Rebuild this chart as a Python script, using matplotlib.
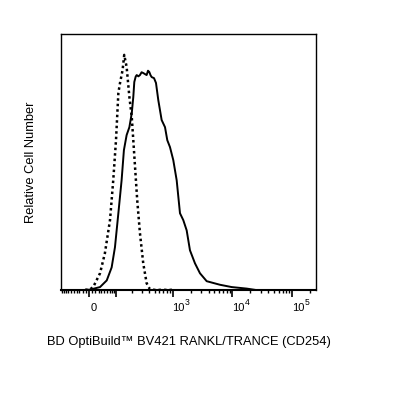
import numpy as np
import matplotlib
matplotlib.use("Agg")
import matplotlib.pyplot as plt

plt.rcParams['font.family'] = ['Liberation Sans', 'DejaVu Sans']

# Isotype control (dotted)
ctrl_x = [-12, 3, 13, 35, 52, 72, 86, 99, 111, 120, 135, 145, 161, 181, 200,
          213, 229, 250, 279, 318, 364, 415, 500, 1000]
ctrl_y = [0.0, 0.002, 0.011, 0.065, 0.143, 0.273, 0.429, 0.586, 0.771, 0.81,
          0.861, 0.92, 0.873, 0.755, 0.676, 0.586, 0.48, 0.351, 0.222, 0.104,
          0.026, 0.002, 0.0, 0.0]

# Stained sample (solid)
stain_x = [-10, 3, 35, 59, 79, 94, 111, 129, 143, 161, 181, 200, 213, 222, 235,
           245, 262, 279, 298, 318, 340, 364, 384, 404, 425, 444, 486, 525, 574,
           654, 745, 814, 903, 1026, 1170, 1329, 1510, 1720, 1953, 2368, 2872,
           3720, 4800, 6206, 9736, 17350, 24000]
stain_y = [0.0, 0.001, 0.011, 0.037, 0.088, 0.167, 0.3, 0.429, 0.547, 0.606,
           0.637, 0.692, 0.755, 0.814, 0.835, 0.841, 0.836, 0.841, 0.852, 0.849,
           0.845, 0.841, 0.858, 0.853, 0.840, 0.833, 0.829, 0.81, 0.743, 0.665,
           0.637, 0.586, 0.559, 0.508, 0.429, 0.3, 0.273, 0.233, 0.155, 0.104,
           0.065, 0.034, 0.027, 0.02, 0.011, 0.005, 0.0]

major_ticks = [0, 100, 1000, 10000, 100000]
label_ticks = [1000, 10000, 100000]
label_exps = ['3', '4', '5']
minor_ticks = ([-100, -90, -80, -70, -60, -50, -40, -30, -20, -10] +
               [10, 20, 30, 40, 50, 60, 70, 80, 90] +
               [200, 300, 400, 500, 600, 700, 800, 900] +
               [2000, 3000, 4000, 5000, 6000, 7000, 8000, 9000] +
               [20000, 30000, 40000, 50000, 60000, 70000, 80000, 90000, 200000])

C = 80.0
def fwd(x):
    return np.arcsinh(np.asarray(x, dtype=float) / C)
def inv(u):
    return C * np.sinh(np.asarray(u, dtype=float))

fig = plt.figure(figsize=(4.04, 3.96), dpi=100)
ax = fig.add_axes([0.151, 0.268, 0.631, 0.645])
ax.set_xscale('function', functions=(fwd, inv))

ax.plot(stain_x, stain_y, color='black', lw=1.4, solid_joinstyle='round')
ax.plot(ctrl_x, ctrl_y, color='black', lw=1.8, linestyle=(0, (1, 1.2)))

ax.set_xlim(-104, 250000)
ax.set_ylim(0, 1.0)
ax.set_yticks([])
ax.set_xticks(major_ticks)
ax.set_xticklabels([''] * len(major_ticks))
ax.set_xticks(minor_ticks, minor=True)
ax.tick_params(axis='x', which='major', length=5, width=1.2, direction='out')
ax.tick_params(axis='x', which='minor', length=2.5, width=1.0, direction='out')
for sp in ax.spines.values():
    sp.set_linewidth(1.0)
ax.spines['bottom'].set_linewidth(1.5)

# tick labels
ax.annotate('0', xy=(0, 0), xycoords=('data', 'axes fraction'),
            xytext=(3.1, -9.8), textcoords='offset points',
            ha='center', va='top', fontsize=8)
for xv, e in zip(label_ticks, label_exps):
    ax.annotate('10', xy=(xv, 0), xycoords=('data', 'axes fraction'),
                xytext=(-0.3, -9.8), textcoords='offset points',
                ha='left', va='top', fontsize=8)
    ax.annotate(e, xy=(xv, 0), xycoords=('data', 'axes fraction'),
                xytext=(9.0, -5.6), textcoords='offset points',
                ha='left', va='top', fontsize=6.2)

ax.set_xlabel('BD OptiBuild™ BV421 RANKL/TRANCE (CD254)', fontsize=9.3, labelpad=25)
ax.set_ylabel('Relative Cell Number', fontsize=9.3, labelpad=17)

fig.savefig('out.png', dpi=100)
